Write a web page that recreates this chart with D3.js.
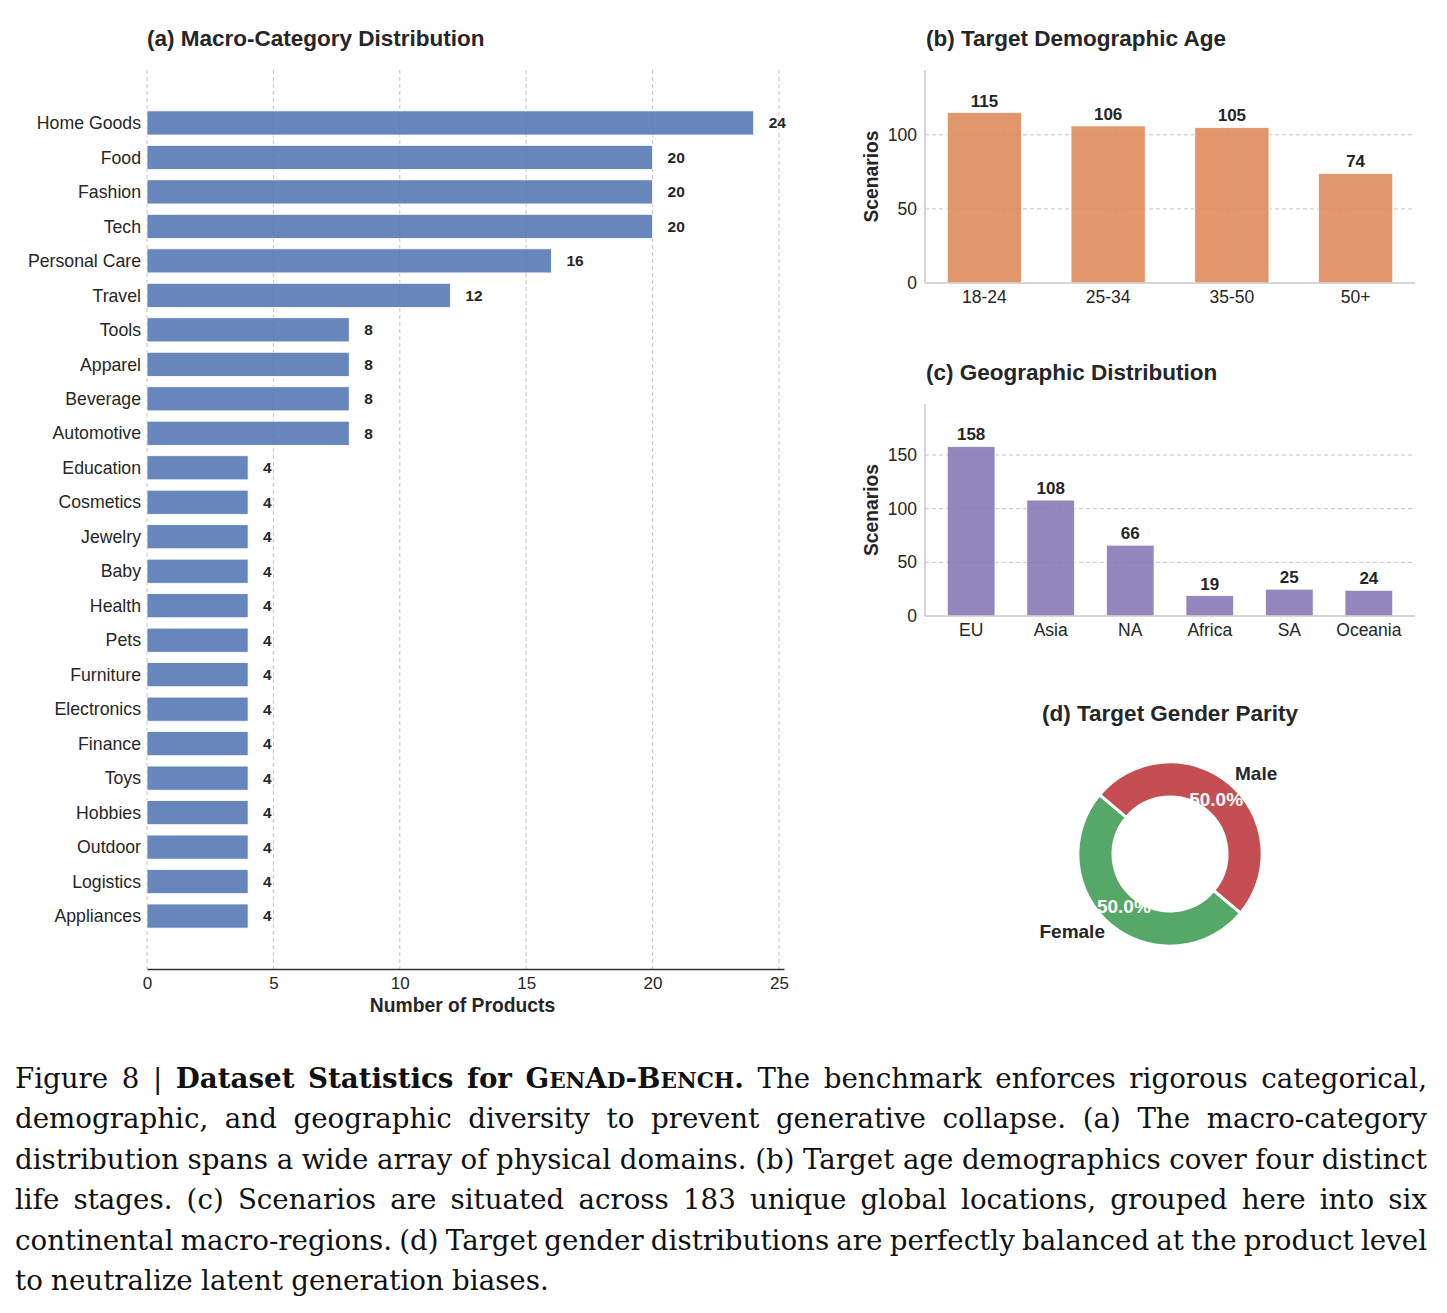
<!DOCTYPE html>
<html><head><meta charset="utf-8">
<script src="https://cdn.jsdelivr.net/npm/d3@7"></script>
<style>body{margin:0;background:#fff}</style>
</head><body>
<svg id="fig" width="1447" height="1313" xmlns="http://www.w3.org/2000/svg"></svg>
<script>
// ---------------- data ----------------
const categories = ["Home Goods","Food","Fashion","Tech","Personal Care","Travel","Tools","Apparel","Beverage","Automotive","Education","Cosmetics","Jewelry","Baby","Health","Pets","Furniture","Electronics","Finance","Toys","Hobbies","Outdoor","Logistics","Appliances"];
const productCounts = [24,20,20,20,16,12,8,8,8,8,4,4,4,4,4,4,4,4,4,4,4,4,4,4];
const productTicks = [0,5,10,15,20,25];

const ageGroups = ["18-24","25-34","35-50","50+"];
const ageCounts = [115,106,105,74];
const ageTicks = [0,50,100];

const regions = ["EU","Asia","NA","Africa","SA","Oceania"];
const regionCounts = [158,108,66,19,25,24];
const regionTicks = [0,50,100,150];

const genders = ["Male","Female"];
const genderShares = [50,50];

const captionLines = [
  [["Figure 8 | ","n"],["Dataset Statistics for ","b"],["G","b"],["EN","bs"],["A","b"],["D","bs"],["-B","b"],["ENCH","bs"],[". ","b"],["The benchmark enforces rigorous categorical,","n"]],
  [["demographic, and geographic diversity to prevent generative collapse. (a) The macro-category","n"]],
  [["distribution spans a wide array of physical domains. (b) Target age demographics cover four distinct","n"]],
  [["life stages. (c) Scenarios are situated across 183 unique global locations, grouped here into six","n"]],
  [["continental macro-regions. (d) Target gender distributions are perfectly balanced at the product level","n"]],
  [["to neutralize latent generation biases.","n"]]
];

// ---------------- styles ----------------
const SANS = "'Liberation Sans', Arial, Helvetica, sans-serif";
const SERIF = "'DejaVu Serif', 'Liberation Serif', serif";
const TXT = "#262626";
const GRID = "#c4c4c4";
const BLUE = "#4c72b0", ORANGE = "#dd8452", PURPLE = "#8172b3", RED = "#c44e52", GREEN = "#55a868";

const svg = d3.select("#fig");
svg.append("rect").attr("width",1447).attr("height",1313).attr("fill","#fff");

// ---------------- panel (a) ----------------
{
  const L = 147, R = 784, T = 70, B = 969;
  const x = d3.scaleLinear().domain([0, 25.2]).range([L, R]);
  const y = d3.scaleBand().domain(categories).range([T, B]).paddingInner(0.3).paddingOuter(1.185);
  const g = svg.append("g");

  g.append("text").attr("x", L).attr("y", 46).attr("font-family", SANS).attr("font-weight", "bold")
    .attr("font-size", 22.5).attr("fill", TXT).text("(a) Macro-Category Distribution");

  g.selectAll(".grid").data(productTicks).join("line")
    .attr("x1", d => x(d)).attr("x2", d => x(d)).attr("y1", T).attr("y2", B)
    .attr("stroke", GRID).attr("stroke-width", 1).attr("stroke-dasharray", "4,3");

  g.selectAll(".bar").data(productCounts).join("rect")
    .attr("x", x(0)).attr("y", (d, i) => y(categories[i]))
    .attr("width", d => x(d) - x(0)).attr("height", y.bandwidth())
    .attr("fill", BLUE).attr("fill-opacity", 0.85).attr("stroke", "#fff").attr("stroke-width", 0.8);

  g.selectAll(".cat").data(categories).join("text")
    .attr("x", L - 6).attr("y", d => y(d) + y.bandwidth() / 2).attr("dy", "0.35em")
    .attr("text-anchor", "end").attr("font-family", SANS).attr("font-size", 17.7).attr("fill", TXT).text(d => d);

  g.selectAll(".val").data(productCounts).join("text")
    .attr("x", d => x(d) + 15).attr("y", (d, i) => y(categories[i]) + y.bandwidth() / 2).attr("dy", "0.35em")
    .attr("font-family", SANS).attr("font-weight", "bold").attr("font-size", 15.5).attr("fill", TXT).text(d => d);

  const ax = d3.axisBottom(x).tickValues(productTicks).tickSize(0).tickPadding(8);
  const axg = g.append("g").attr("transform", `translate(0,${B})`).call(ax);
  axg.select(".domain").attr("stroke", "#333").attr("stroke-width", 1.4);
  axg.selectAll("text").attr("font-family", SANS).attr("font-size", 17).attr("fill", TXT);

  g.append("text").attr("x", (L + R) / 2 - 3).attr("y", 1012).attr("text-anchor", "middle")
    .attr("font-family", SANS).attr("font-weight", "bold").attr("font-size", 19.3).attr("fill", TXT).text("Number of Products");
}

// ---------------- vertical bar panels (b), (c) ----------------
function vbar(opts) {
  const { L, R, T, B, cats, vals, ticks, ymax, color, title, titleY, pOuter } = opts;
  const g = svg.append("g");
  const x = d3.scaleBand().domain(cats).range([L, R]).paddingInner(0.4).paddingOuter(pOuter);
  const y = d3.scaleLinear().domain([0, ymax]).range([B, T]);

  g.append("text").attr("x", L + 1).attr("y", titleY).attr("font-family", SANS).attr("font-weight", "bold")
    .attr("font-size", 22.5).attr("fill", TXT).text(title);

  g.selectAll(".grid").data(ticks.filter(t => t > 0)).join("line")
    .attr("x1", L).attr("x2", R).attr("y1", d => y(d)).attr("y2", d => y(d))
    .attr("stroke", GRID).attr("stroke-width", 1).attr("stroke-dasharray", "4,3");

  g.selectAll(".bar").data(vals).join("rect")
    .attr("x", (d, i) => x(cats[i])).attr("y", d => y(d))
    .attr("width", x.bandwidth()).attr("height", d => y(0) - y(d))
    .attr("fill", color).attr("fill-opacity", 0.85).attr("stroke", "#fff").attr("stroke-width", 0.8);

  g.selectAll(".val").data(vals).join("text")
    .attr("x", (d, i) => x(cats[i]) + x.bandwidth() / 2).attr("y", d => y(d) - 6)
    .attr("text-anchor", "middle").attr("font-family", SANS).attr("font-weight", "bold")
    .attr("font-size", 17).attr("fill", TXT).text(d => d);

  const ay = d3.axisLeft(y).tickValues(ticks).tickSize(0).tickPadding(8);
  const ayg = g.append("g").attr("transform", `translate(${L},0)`).call(ay);
  ayg.select(".domain").remove();
  ayg.selectAll("text").attr("font-family", SANS).attr("font-size", 17.5).attr("fill", TXT);

  const axb = d3.axisBottom(x).tickSize(0).tickPadding(8);
  const axg = g.append("g").attr("transform", `translate(0,${B})`).call(axb);
  axg.select(".domain").remove();
  axg.selectAll("text").attr("font-family", SANS).attr("font-size", 17.5).attr("fill", TXT);

  // spines
  g.append("line").attr("x1", L).attr("x2", L).attr("y1", T).attr("y2", B).attr("stroke", "#c8c8c8").attr("stroke-width", 1.5);
  g.append("line").attr("x1", L).attr("x2", R).attr("y1", B).attr("y2", B).attr("stroke", "#c8c8c8").attr("stroke-width", 1.5);

  g.append("text").attr("transform", `translate(${L - 47},${(T + B) / 2}) rotate(-90)`)
    .attr("text-anchor", "middle").attr("font-family", SANS).attr("font-weight", "bold")
    .attr("font-size", 19.3).attr("fill", TXT).text("Scenarios");
}

vbar({ L: 925, R: 1415, T: 70, B: 283, cats: ageGroups, vals: ageCounts, ticks: ageTicks,
  ymax: d3.max(ageCounts) * 1.25, color: ORANGE, title: "(b) Target Demographic Age", titleY: 46, pOuter: 0.18 });
vbar({ L: 925, R: 1415, T: 404, B: 616, cats: regions, vals: regionCounts, ticks: regionTicks,
  ymax: d3.max(regionCounts) * 1.25, color: PURPLE, title: "(c) Geographic Distribution", titleY: 380, pOuter: 0.28 });

// ---------------- panel (d) donut ----------------
{
  const cx = 1170, cy = 854, r = 92, rin = 57;
  const g = svg.append("g");
  g.append("text").attr("x", cx).attr("y", 721).attr("text-anchor", "middle").attr("font-family", SANS)
    .attr("font-weight", "bold").attr("font-size", 22.5).attr("fill", TXT).text("(d) Target Gender Parity");

  const deg = Math.PI / 180;
  const pie = d3.pie().sort(null).startAngle(-50 * deg).endAngle(310 * deg);
  const arcs = pie(genderShares);
  const arc = d3.arc().innerRadius(rin).outerRadius(r);
  const colors = [RED, GREEN];
  const gg = g.append("g").attr("transform", `translate(${cx},${cy})`);
  gg.selectAll("path").data(arcs).join("path").attr("d", arc)
    .attr("fill", (d, i) => colors[i]).attr("stroke", "#fff").attr("stroke-width", 3);

  arcs.forEach((a, i) => {
    const m = (a.startAngle + a.endAngle) / 2;
    const lx = Math.sin(m) * r * 1.1, ly = -Math.cos(m) * r * 1.1;
    gg.append("text").attr("x", lx).attr("y", ly + (ly < 0 ? -3 : 0)).attr("dy", "0.35em")
      .attr("text-anchor", lx > 0 ? "start" : "end").attr("font-family", SANS).attr("font-weight", "bold")
      .attr("font-size", 19).attr("fill", TXT).text(genders[i]);
    const px = Math.sin(m) * r * 0.78, py = -Math.cos(m) * r * 0.78;
    gg.append("text").attr("x", px).attr("y", py + (py > 0 ? -3 : 0)).attr("dy", "0.35em").attr("text-anchor", "middle")
      .attr("font-family", SANS).attr("font-weight", "bold").attr("font-size", 19).attr("fill", "#fff")
      .text(genderShares[i].toFixed(1) + "%");
  });
}

// ---------------- caption ----------------
{
  const g = svg.append("g");
  const x0 = 15, x1 = 1427, y0 = 1088, lh = 40.4;
  // measure the (unjustified) last line to pick a font size matching its printed width (~536px)
  const probe = g.append("text").attr("font-family", SERIF).attr("font-size", 30)
    .text(captionLines[captionLines.length - 1].map(r => r[0]).join(""));
  const fs = Math.min(32, 30 * 536 / probe.node().getComputedTextLength());
  probe.remove();

  captionLines.forEach((runs, li) => {
    const words = []; let cur = [];
    runs.forEach(([txt, st]) => {
      txt.split(" ").forEach((p, i) => {
        if (i > 0) { if (cur.length) words.push(cur); cur = []; }
        if (p.length) cur.push([p, st]);
      });
    });
    if (cur.length) words.push(cur);
    const y = y0 + li * lh;
    const els = words.map(w => {
      const t = g.append("text").attr("y", y).attr("font-family", SERIF).attr("font-size", fs).attr("fill", "#111");
      w.forEach(([p, st]) => {
        t.append("tspan").text(p).attr("font-weight", st.includes("b") ? "bold" : "normal")
          .attr("font-size", st.includes("s") ? fs * 0.78 : fs);
      });
      return t;
    });
    const widths = els.map(e => e.node().getComputedTextLength());
    const total = d3.sum(widths);
    const justify = li < captionLines.length - 1;
    let gap = justify ? (x1 - x0 - total) / (els.length - 1) : fs * 0.3;
    let sx = 1;
    if (justify && gap < fs * 0.18) {
      gap = fs * 0.18;
      sx = (x1 - x0 - gap * (els.length - 1)) / total;
    }
    let x = x0;
    els.forEach((e, i) => {
      e.attr("x", 0).attr("transform", `translate(${x},0) scale(${sx},1)`);
      x += widths[i] * sx + gap;
    });
  });
}
</script>
</body></html>
